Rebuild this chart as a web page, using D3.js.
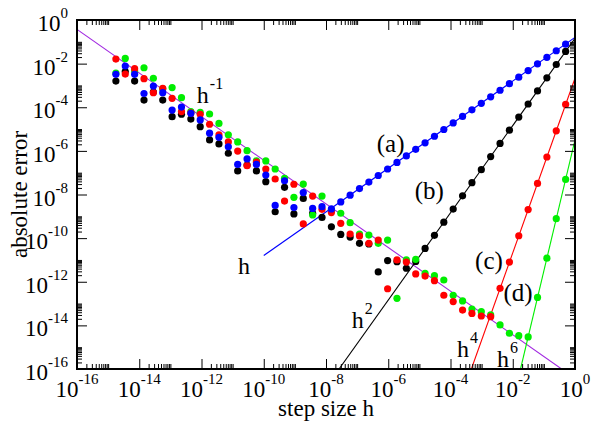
<!DOCTYPE html>
<html>
<head>
<meta charset="utf-8">
<script src="https://cdn.jsdelivr.net/npm/d3@7/dist/d3.min.js"></script>
<style>
  body { margin: 0; background: #fff; }
  svg { display: block; }
</style>
</head>
<body>
<svg id="chart" width="591" height="426"></svg>
<script>
// Step size h = 2^-k for each halving k.
const halvings = [1, 2, 3, 4, 5, 6, 7, 8, 9, 10, 11, 12, 13, 14, 15, 16, 17, 18, 19, 20,
    21, 22, 23, 24, 25, 26, 27, 28, 29, 30, 31, 32, 33, 34, 35, 36, 37, 38, 39, 40,
    41, 42, 43, 44, 45, 46, 47, 48, 49];

// log10 of the absolute error, one entry per halving.
const errA = [-1.11, -1.41, -1.71, -2.01, -2.32, -2.62, -2.92, -3.22, -3.52, -3.82,
    -4.12, -4.42, -4.72, -5.02, -5.33, -5.63, -5.93, -6.23, -6.53, -6.83,
    -7.13, -7.43, -7.73, -8.03, -8.34, -8.66, -8.56, -8.64, -7.91, -8.60,
    -7.37, -8.50, -7.11, -6.62, -6.37, -6.62, -5.81, -5.38, -5.19, -4.58,
    -4.28, -3.99, -4.13, -3.33, -3.03, -3.37, -2.49, -2.11, -2.49];
const errB = [-1.44, -2.04, -2.65, -3.25, -3.85, -4.45, -5.05, -5.66, -6.26, -6.86,
    -7.46, -8.06, -8.67, -9.27, -9.87, -10.47, -11.07, -11.38, -11.08, -11.03,
    -11.55, -10.27, -10.24, -9.95, -9.83, -9.48, -9.05, -8.86, -8.18, -8.89,
    -7.67, -8.79, -7.41, -6.92, -6.65, -6.92, -6.11, -5.68, -5.50, -4.89,
    -4.54, -4.32, -4.43, -3.67, -3.30, -3.67, -2.80, -2.36, -2.80];
const errC = [-3.87, -5.08, -6.28, -7.49, -8.69, -9.89, -11.10, -12.30, -13.60, -13.57,
    -13.45, -13.30, -12.91, -12.62, -11.95, -11.74, -11.64, -11.10, -11.00, -12.32,
    -10.09, -10.24, -9.90, -9.81, -9.32, -8.83, -8.68, -8.07, -9.35, -7.53,
    -8.30, -7.29, -6.83, -6.52, -6.68, -6.01, -5.59, -5.27, -4.78, -4.32,
    -4.26, -4.20, -3.59, -3.13, -3.33, -2.69, -2.23, -2.48, -1.79];
const errD = [-7.31, -9.11, -10.92, -12.72, -14.53, -14.47, -14.36, -13.98, -13.52, -13.37,
    -13.25, -12.88, -12.62, -11.92, -11.72, -11.61, -10.97, -11.00, -12.76, -10.09,
    -10.24, -9.86, -9.81, -9.29, -8.86, -8.71, -8.07, -8.94, -7.52, -8.13,
    -7.26, -6.83, -6.46, -6.46, -5.99, -5.59, -5.26, -4.74, -4.31, -4.23,
    -4.20, -3.56, -3.10, -3.16, -2.67, -2.19, -2.34, -1.76, -2.43];

// Power-law guide lines, endpoints as [log10 h, log10 error].
const guideInv = [[-16, -0.43], [-0.43, -16]];
const guideA = [[-10, -10.80], [0, -0.80]];
const guideB = [[-7.58, -16], [0, -0.84]];
const guideC = [[-3.33, -16], [0, -2.67]];
const guideD = [[-1.75, -16], [0, -5.50]];

// Axis decades: labelled every second decade, minor ticks m * 10^e.
const majorExps = [-16, -14, -12, -10, -8, -6, -4, -2, 0];
const minorMults = [2, 3, 4, 5, 6, 7, 8, 9, 10];

// Curve annotations at [log10 h, log10 error] of the text baseline start.
const curveLabels = [
    {text: "(a)", at: [-6.37, -6.05]},
    {text: "(b)", at: [-5.15, -8.21]},
    {text: "(c)", at: [-3.21, -11.42]},
    {text: "(d)", at: [-2.30, -12.88]}
];
const powerLabels = [
    {base: "h", sup: "-1", at: [-12.15, -3.82]},
    {base: "h", sup: "", at: [-10.83, -11.64]},
    {base: "h", sup: "2", at: [-7.17, -14.12]},
    {base: "h", sup: "4", at: [-3.79, -15.45]},
    {base: "h", sup: "6", at: [-2.51, -15.91]}
];

const width = 591, height = 426;
const margin = {top: 20, right: 16, bottom: 57, left: 77};
const serif = "'Liberation Serif', 'Times New Roman', 'DejaVu Serif', serif";

const svg = d3.select("#chart")
    .attr("font-family", serif);

const x = d3.scaleLog()
    .domain([1e-16, 1])
    .range([margin.left, width - margin.right]);
const y = d3.scaleLog()
    .domain([1e-16, 1])
    .range([height - margin.bottom, margin.top]);

const p10 = e => Math.pow(10, e);

svg.append("clipPath").attr("id", "plot-clip")
    .append("rect")
    .attr("x", margin.left).attr("y", margin.top)
    .attr("width", width - margin.left - margin.right)
    .attr("height", height - margin.top - margin.bottom);

// guide lines
const line = d3.line()
    .x(d => x(p10(d[0])))
    .y(d => y(p10(d[1])));

const guides = svg.append("g").attr("clip-path", "url(#plot-clip)");
[
    [guideInv, "#a128e0"],
    [guideA, "#0000ff"],
    [guideB, "#000000"],
    [guideC, "#ff0000"],
    [guideD, "#00ee00"]
].forEach(([pts, col]) => {
    guides.append("path")
        .attr("d", line(pts))
        .attr("fill", "none")
        .attr("stroke", col)
        .attr("stroke-width", 1.1);
});

// error points, drawn black, green, red, blue
const dots = svg.append("g").attr("clip-path", "url(#plot-clip)");
[
    [errB, "#000000"],
    [errD, "#00ee00"],
    [errC, "#ff0000"],
    [errA, "#0000ff"]
].forEach(([errs, col]) => {
    dots.append("g")
        .selectAll("circle")
        .data(halvings.map((k, i) => ({h: Math.pow(2, -k), e: p10(errs[i])})))
        .join("circle")
        .attr("cx", d => x(d.h))
        .attr("cy", d => y(d.e))
        .attr("r", 3.6)
        .attr("fill", col);
});

// ticks on all four sides, pointing inward
const majorVals = majorExps.map(p10);
const minorVals = [];
majorExps.slice(0, -1).forEach(e => minorMults.forEach(m => minorVals.push(m * p10(e))));

function ticks(axisFn, scale, vals, size, tx, ty) {
    svg.append("g")
        .attr("transform", `translate(${tx},${ty})`)
        .call(axisFn(scale).tickValues(vals).tickSize(size).tickFormat(""))
        .call(g => g.select(".domain").remove())
        .call(g => g.selectAll("text").remove())
        .call(g => g.selectAll("line").attr("stroke", "#000").attr("stroke-width", 1));
}
const bottom = height - margin.bottom, right = width - margin.right;
[[majorVals, -10], [minorVals, -5]].forEach(([vals, size]) => {
    ticks(d3.axisBottom, x, vals, size, 0, bottom);
    ticks(d3.axisTop, x, vals, size, 0, margin.top);
    ticks(d3.axisLeft, y, vals, size, margin.left, 0);
    ticks(d3.axisRight, y, vals, size, right, 0);
});

// frame
svg.append("rect")
    .attr("x", margin.left).attr("y", margin.top)
    .attr("width", right - margin.left)
    .attr("height", bottom - margin.top)
    .attr("fill", "none")
    .attr("stroke", "#000")
    .attr("stroke-width", 2);

// every label gets the serif face set directly
function label(sel, size) {
    return sel.attr("font-family", serif)
        .attr("font-size", size)
        .attr("fill", "#000");
}

// tick labels, 10 with a raised exponent
function powerText(sel) {
    sel.append("tspan").text("10");
    sel.append("tspan").attr("dy", -13).attr("font-size", 15).text(d => d);
}
svg.append("g").selectAll("text")
    .data(majorExps)
    .join("text")
    .call(label, 23)
    .attr("x", d => x(p10(d)))
    .attr("y", bottom + 28)
    .attr("text-anchor", "middle")
    .call(powerText);

svg.append("g").selectAll("text")
    .data(majorExps)
    .join("text")
    .call(label, 23)
    .attr("x", margin.left - 9)
    .attr("y", d => y(p10(d)) + 11)
    .attr("text-anchor", "end")
    .call(powerText);

// axis titles
svg.append("text")
    .call(label, 23)
    .attr("x", (margin.left + right) / 2)
    .attr("y", 416)
    .attr("text-anchor", "middle")
    .text("step size h");

svg.append("text")
    .call(label, 23)
    .attr("transform", `translate(27,${(margin.top + bottom) / 2}) rotate(-90)`)
    .attr("text-anchor", "middle")
    .text("absolute error");

// curve annotations
svg.append("g").selectAll("text")
    .data(curveLabels)
    .join("text")
    .call(label, 25)
    .attr("x", d => x(p10(d.at[0])))
    .attr("y", d => y(p10(d.at[1])))
    .text(d => d.text);

const pl = svg.append("g").selectAll("text")
    .data(powerLabels)
    .join("text")
    .call(label, 24)
    .attr("x", d => x(p10(d.at[0])))
    .attr("y", d => y(p10(d.at[1])));
pl.append("tspan").text(d => d.base);
pl.append("tspan")
    .attr("dx", 1)
    .attr("dy", -14)
    .attr("font-size", 16)
    .text(d => d.sup);
</script>
</body>
</html>
